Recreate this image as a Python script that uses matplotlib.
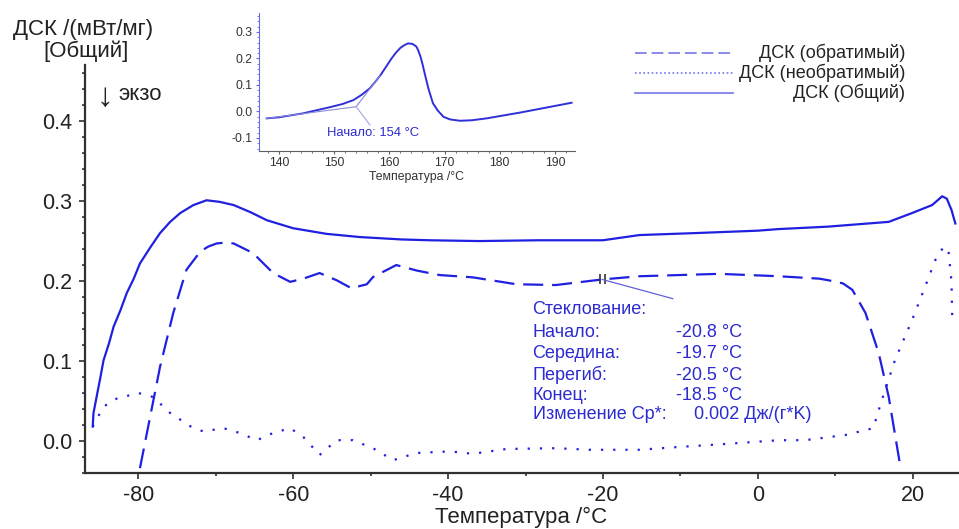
import matplotlib
matplotlib.use("Agg")
import matplotlib.pyplot as plt
from matplotlib.lines import Line2D
from matplotlib.ticker import MultipleLocator

plt.rcParams['font.family'] = ['Liberation Sans', 'DejaVu Sans']

# ---------------- data ----------------
total_T = [-85.9, -85.8, -85.3, -84.9, -84.5, -83.8, -83.2, -82.3, -81.5, -80.6, -79.8,
           -78.4, -77.2, -75.9, -74.6, -72.9, -71.2, -69.5, -67.7, -65.5, -63.4, -60.0,
           -55.7, -51.4, -46.0, -42.4, -36.0, -28.2, -20.0, -15.3, -8.0, 0.0, 2.7, 9.0,
           15.6, 16.9, 19.9, 22.5, 23.8, 24.4, 25.0, 25.5]
total_V = [0.018, 0.035, 0.060, 0.080, 0.101, 0.122, 0.143, 0.164, 0.185, 0.203, 0.222,
           0.243, 0.260, 0.274, 0.285, 0.295, 0.301, 0.299, 0.295, 0.286, 0.276, 0.266,
           0.259, 0.255, 0.252, 0.251, 0.250, 0.251, 0.251, 0.2575, 0.260, 0.263, 0.265,
           0.268, 0.273, 0.274, 0.285, 0.295, 0.306, 0.303, 0.289, 0.272]

rev_T = [-79.8, -78.9, -77.2, -75.5, -73.8, -72.0, -71.0, -69.9, -68.8, -67.7, -65.2,
         -62.6, -60.4, -58.7, -56.6, -54.4, -52.5, -50.5, -49.7, -46.7, -44.0, -41.1,
         -36.8, -31.2, -26.1, -20.1, -15.3, -5.0, 2.7, 7.9, 9.1, 11.0, 12.2, 13.9, 15.6,
         16.9, 18.4]
rev_V = [-0.034, 0.010, 0.093, 0.160, 0.214, 0.237, 0.243, 0.247, 0.248, 0.247, 0.235,
         0.210, 0.199, 0.203, 0.210, 0.201, 0.191, 0.196, 0.205, 0.220, 0.213, 0.2075,
         0.2046, 0.196, 0.195, 0.202, 0.206, 0.209, 0.206, 0.203, 0.201, 0.197, 0.189,
         0.160, 0.110, 0.055, -0.032]

nonrev_T = [-85.9, -84.5, -82.8, -80.0, -78.1, -75.9, -72.9, -71.6, -69.0, -66.9, -64.7,
            -62.6, -60.4, -58.7, -56.6, -54.4, -52.3, -49.7, -47.1, -44.1, -39.8, -36.8,
            -32.5, -26.1, -21.8, -15.3, -11.0, -4.6, 2.7, 6.1, 11.3, 14.9, 16.0, 17.7,
            19.9, 21.6, 22.9, 24.0, 24.6, 25.0, 25.1]
nonrev_V = [0.018, 0.043, 0.053, 0.060, 0.055, 0.035, 0.016, 0.012, 0.016, 0.010, 0.001,
            0.010, 0.016, 0.005, -0.0175, 0.001, 0.001, -0.009, -0.024, -0.015, -0.013,
            -0.016, -0.010, -0.009, -0.011, -0.011, -0.008, -0.004, 0.001, 0.001, 0.0075,
            0.016, 0.051, 0.101, 0.151, 0.193, 0.226, 0.243, 0.239, 0.200, 0.155]

inset_T = [137.8, 140.0, 144.4, 149.2, 151.5, 153.5, 155.0, 156.5, 157.5, 158.5, 160.4,
           161.2, 162.0, 162.7, 163.4, 164.2, 164.9, 165.2, 165.6, 166.0, 166.4, 167.1,
           167.9, 168.8, 169.8, 171.0, 172.8, 175.0, 177.6, 183.7, 193.0]
inset_V = [-0.026, -0.022, -0.007, 0.016, 0.028, 0.043, 0.063, 0.088, 0.113, 0.140, 0.200,
           0.222, 0.240, 0.250, 0.257, 0.255, 0.245, 0.232, 0.210, 0.180, 0.144, 0.085,
           0.031, 0.003, -0.020, -0.030, -0.035, -0.033, -0.026, -0.004, 0.033]

onset_T, onset_V = 154.0, 0.018
tangent_end_T, tangent_end_V = 158.3, 0.135
onset_label = "Начало: 154 °C"

tg_T, tg_V = -20.1, 0.202
tg_lines = ["Стеклование:", "Начало:", "Середина:", "Перегиб:", "Конец:", "Изменение Cp*:"]
tg_values = ["", "-20.8 °C", "-19.7 °C", "-20.5 °C", "-18.5 °C", "0.002 Дж/(г*K)"]

legend_labels = ["ДСК (обратимый)", "ДСК (необратимый)", "ДСК (Общий)"]

x_ticks = [-80, -60, -40, -20, 0, 20]
y_ticks = [0.0, 0.1, 0.2, 0.3, 0.4]
inset_xticks = [140, 150, 160, 170, 180, 190]
inset_yticks = [-0.1, 0.0, 0.1, 0.2, 0.3]

# ---------------- styling ----------------
BLUE = '#2020e0'
TXT_BLUE = '#2b2bd0'
AX_COL = '#303030'

fig = plt.figure(figsize=(9.59, 5.29), dpi=100)
ax = fig.add_axes([0.0886, 0.1059, 0.910, 0.771])

ax.plot(total_T, total_V, color=BLUE, lw=1.6)
ax.plot(rev_T, rev_V, color=BLUE, lw=1.6, dashes=(9, 4))
ax.plot(nonrev_T, nonrev_V, color=BLUE, lw=1.6, dashes=(1, 4.5))

ax.set_xlim(-86.9, 25.8)
ax.set_ylim(-0.04, 0.47)
ax.set_xticks(x_ticks)
ax.set_xticklabels([f"{t:d}" for t in x_ticks])
ax.set_yticks(y_ticks)
ax.set_yticklabels([f"{t:.1f}" for t in y_ticks])
ax.xaxis.set_minor_locator(MultipleLocator(10))
ax.yaxis.set_minor_locator(MultipleLocator(0.02))
for s in ['top', 'right']:
    ax.spines[s].set_visible(False)
for s in ['left', 'bottom']:
    ax.spines[s].set_color(AX_COL)
    ax.spines[s].set_linewidth(1.6)
ax.tick_params(which='major', length=4, width=1.2, color=AX_COL, labelsize=15.5,
               labelcolor='#222222', pad=5)
ax.tick_params(which='minor', length=2.5, width=1.2, color=AX_COL)
ax.set_xlabel("Температура /°C", fontsize=16, color='#222222', labelpad=0)

# glass transition annotation
ax.plot([tg_T - 0.35, tg_T + 0.35], [tg_V, tg_V], ls='none', marker='|',
        markersize=7, mew=1.2, color='#333333')
ax.plot([tg_T, -11.0], [tg_V, 0.178], color='#6060d8', lw=0.9)
row_y = [0.164, 0.136, 0.110, 0.0825, 0.0575, 0.0325]
for lbl, val, yy in zip(tg_lines, tg_values, row_y):
    ax.text(-29.1, yy, lbl, color=TXT_BLUE, fontsize=13, va='center', ha='left')
    if val:
        xv = -8.2 if 'Дж' in val else -10.6
        ax.text(xv, yy, val, color=TXT_BLUE, fontsize=13, va='center', ha='left')

# y label and exo marker
fig.text(0.0866, 0.945, "ДСК /(мВт/мг)", fontsize=16, ha='center', va='center', color='#222222')
fig.text(0.0897, 0.903, "[Общий]", fontsize=16, ha='center', va='center', color='#222222')
fig.text(0.1095, 0.815, "↓", fontsize=24, ha='center', va='center', color='#222222')
fig.text(0.123, 0.822, "экзо", fontsize=16, ha='left', va='center', color='#222222')

# legend (manual)
leg_styles = [dict(dashes=(7, 3)), dict(dashes=(1, 1.5)), dict()]
leg_y = [0.900, 0.862, 0.824]
for lbl, st, yy in zip(legend_labels, leg_styles, leg_y):
    fig.add_artist(Line2D([0.662, 0.764], [yy, yy], transform=fig.transFigure,
                          color='#7575ea', lw=1.2, **st))
    fig.text(0.944, yy, lbl, fontsize=13, ha='right', va='center', color='#222222')

# ---------------- inset ----------------
ins = fig.add_axes([0.270, 0.7146, 0.3295, 0.261])
ins.plot(inset_T, inset_V, color='#3030d8', lw=1.4)
ins.plot([inset_T[0], onset_T], [inset_V[0], onset_V], color='#8a8ad8', lw=0.8)
ins.plot([onset_T, tangent_end_T], [onset_V, tangent_end_V], color='#8a8ad8', lw=0.8)
ins.plot([onset_T, 156.5], [onset_V, -0.051], color='#a0a8e0', lw=0.8)
ins.text(157.0, -0.081, onset_label, color=TXT_BLUE, fontsize=9.4, ha='center', va='center')
ins.set_xlim(136.4, 193.6)
ins.set_ylim(-0.149, 0.372)
ins.set_xticks(inset_xticks)
ins.set_yticks(inset_yticks)
ins.set_yticklabels([f"{t:.1f}" for t in inset_yticks])
ins.xaxis.set_minor_locator(MultipleLocator(2))
ins.yaxis.set_minor_locator(MultipleLocator(0.02))
for s in ['top', 'right']:
    ins.spines[s].set_visible(False)
ins.spines['left'].set_color('#6a6ae8')
ins.spines['left'].set_linestyle((0, (2, 1)))
ins.spines['bottom'].set_color('#606060')
ins.tick_params(axis='y', which='both', color='#6a6ae8')
ins.tick_params(axis='x', which='both', color='#606060')
ins.tick_params(which='major', length=2.5, labelsize=8.8, labelcolor='#333333', pad=2)
ins.tick_params(which='minor', length=1.5)
ins.set_xlabel("Температура /°C", fontsize=8.8, color='#333333', labelpad=1)
ins.patch.set_alpha(0)

fig.savefig("out.png", dpi=100)
